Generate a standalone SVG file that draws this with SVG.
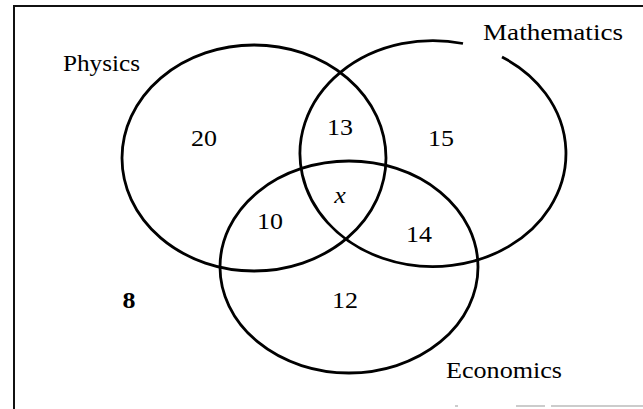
<svg xmlns="http://www.w3.org/2000/svg" width="643" height="409" viewBox="0 0 643 409">
<style>
.set{fill:none;stroke:#000;stroke-width:2.8}
.lbl{font-family:"Liberation Serif","Times New Roman",serif;font-size:23px;fill:#000}
.num{font-family:"Liberation Serif","Times New Roman",serif;font-size:23px;fill:#000;text-anchor:middle}
</style>
<rect width="643" height="409" fill="#fff"/>
<g id="frame" fill="none" stroke="#111" stroke-width="2">
<path d="M14,409 V6 H643"/>
<path d="M455,406 h3 M516,406 h29 M551,406 h92" stroke="#999" stroke-width="1.2"/>
</g>
<g id="physics">
<ellipse class="set" cx="254" cy="158" rx="132" ry="113"/>
<text class="lbl" x="63" y="71" textLength="77" lengthAdjust="spacingAndGlyphs">Physics</text>
</g>
<g id="mathematics">
<path class="set" d="M502,57 A133,113 0 1,1 463,43.5"/>
<text class="lbl" x="483" y="40" textLength="140" lengthAdjust="spacingAndGlyphs">Mathematics</text>
</g>
<g id="economics">
<ellipse class="set" cx="349" cy="267" rx="129" ry="106"/>
<text class="lbl" x="446" y="378" textLength="116" lengthAdjust="spacingAndGlyphs">Economics</text>
</g>
<g id="regions">
<text class="num" transform="translate(204,146) scale(1.13,1)">20</text>
<text class="num" transform="translate(340,135) scale(1.13,1)">13</text>
<text class="num" transform="translate(441,146) scale(1.13,1)">15</text>
<text class="num" transform="translate(340,203) scale(1.13,1)" font-style="italic">x</text>
<text class="num" transform="translate(270,229) scale(1.13,1)">10</text>
<text class="num" transform="translate(419,242) scale(1.13,1)">14</text>
<text class="num" transform="translate(129,308) scale(1.13,1)" font-weight="bold">8</text>
<text class="num" transform="translate(345,308) scale(1.13,1)">12</text>
</g>
</svg>
